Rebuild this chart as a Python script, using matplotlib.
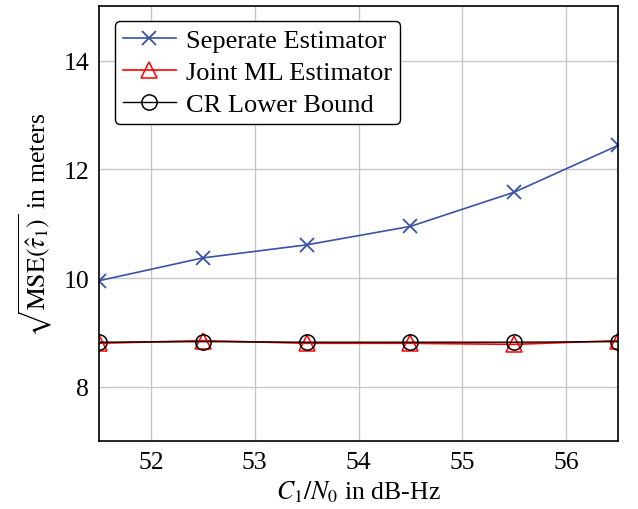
import numpy as np
import matplotlib.pyplot as plt

plt.rcParams['font.family'] = ['Liberation Serif', 'DejaVu Serif']
plt.rcParams['mathtext.fontset'] = 'stix'

# data
cn0 = [51.5, 52.5, 53.5, 54.5, 55.5, 56.5]
sep_est = [9.95, 10.37, 10.61, 10.95, 11.58, 12.44]
joint_ml = [8.80, 8.85, 8.80, 8.80, 8.78, 8.85]
cr_bound = [8.82, 8.83, 8.82, 8.82, 8.82, 8.83]

fig = plt.figure(figsize=(6.38, 5.10), dpi=100)
ax = fig.add_axes([0.155, 0.133, 0.814, 0.853])

ax.plot(cn0, sep_est, color='#3a53a4', marker='x', markersize=10, mew=1.3,
        lw=1.2, label='Seperate Estimator')
ax.plot(cn0, joint_ml, color='red', marker='^', markersize=11, mfc='none', mew=1.1,
        lw=1.2, label='Joint ML Estimator')
ax.plot(cn0, cr_bound, color='black', marker='o', markersize=11, mfc='none', mew=1.1,
        lw=1.0, label='CR Lower Bound')

ax.set_xlim(51.5, 56.5)
ax.set_ylim(7, 15)
ax.set_xticks([52, 53, 54, 55, 56])
ax.set_yticks([8, 10, 12, 14])
ax.grid(True, color='#c8c8c8', lw=1)
ax.set_axisbelow(True)
ax.tick_params(direction='in', length=5, labelsize=18.5, top=True, right=True,
               color='#c8c8c8', pad=7)
for s in ax.spines.values():
    s.set_linewidth(1.2)

ax.set_xlabel(r'$C_1/N_0$ in dB-Hz', fontsize=18.5, labelpad=4)
ax.set_ylabel(r'$\sqrt{\mathrm{MSE}(\hat{\tau}_1)}$ in meters', fontsize=18.5, labelpad=6)

leg = ax.legend(loc='upper left', fontsize=19, frameon=True, fancybox=True,
                edgecolor='black', framealpha=1, handlelength=2.0,
                borderpad=0.3, labelspacing=0.32, handletextpad=0.4,
                borderaxespad=0, bbox_to_anchor=(0.031, 0.966))
leg.get_frame().set_linewidth(1.0)

fig.savefig('out.png', dpi=100)
